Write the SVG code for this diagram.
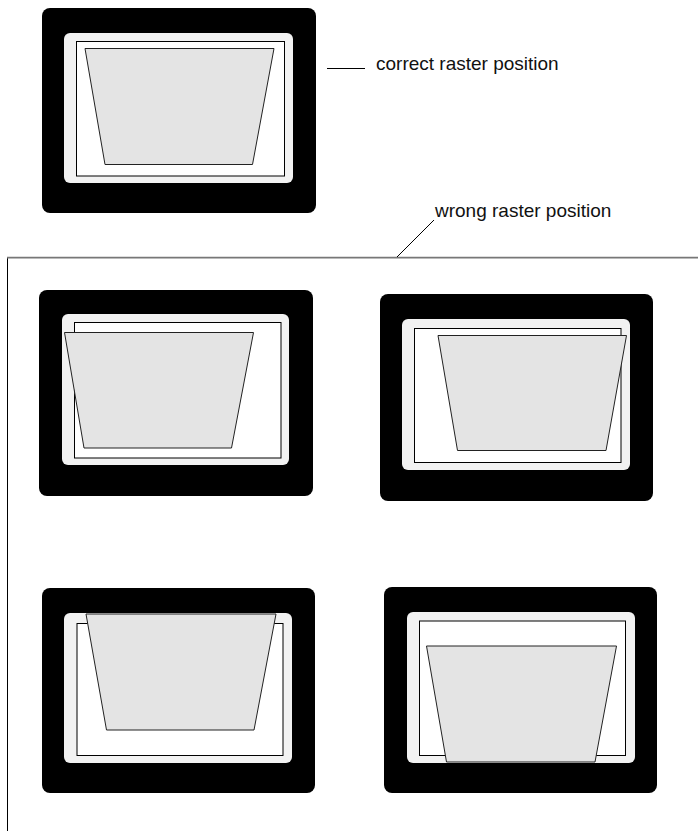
<svg xmlns="http://www.w3.org/2000/svg" width="698" height="831" viewBox="0 0 698 831">
<style>
.bezel{fill:#000;}
.screen{fill:#f2f2f2;}
.raster{fill:#fff;stroke:#000;stroke-width:1;}
.img{fill:#e4e4e4;stroke:#222;stroke-width:1;stroke-linejoin:miter;}
.lbl{font-family:"Liberation Sans",Arial,sans-serif;font-size:19px;fill:#111;}
.lead{stroke:#000;stroke-width:1;fill:none;}
</style>
<rect width="698" height="831" fill="#fff"/>
<g id="monitor-correct">
<rect class="bezel" x="42" y="8" width="274" height="205" rx="8"/>
<rect class="screen" x="64" y="33" width="229" height="150" rx="6"/>
<rect class="raster" x="76.5" y="41.5" width="208" height="134.5"/>
<polygon class="img" points="85,48.5 274,48.5 252.5,164.5 105,164.5"/>
</g>
<g id="frame-wrong">
<line x1="7.5" y1="257.5" x2="7.5" y2="831" stroke="#000" stroke-width="1"/>
<line x1="7" y1="257.6" x2="698" y2="257.6" stroke="#777" stroke-width="1.6"/>
</g>
<g id="monitor-wrong-1">
<rect class="bezel" x="39" y="290" width="274" height="206" rx="8"/>
<rect class="screen" x="62" y="314" width="227" height="151" rx="6"/>
<rect class="raster" x="74.5" y="322.5" width="206.5" height="135.5"/>
<polygon class="img" points="64.5,332.5 253.5,332.5 231.5,448 84,448"/>
</g>
<g id="monitor-wrong-2">
<rect class="bezel" x="380" y="294" width="273" height="207" rx="8"/>
<rect class="screen" x="402" y="319" width="228" height="151" rx="6"/>
<rect class="raster" x="414.5" y="328.5" width="206.5" height="134"/>
<polygon class="img" points="438,335.5 626.5,335.5 606,450.5 457.5,450.5"/>
</g>
<g id="monitor-wrong-3">
<rect class="bezel" x="42" y="588" width="273" height="205" rx="8"/>
<rect class="screen" x="64" y="613" width="228" height="150" rx="6"/>
<rect class="raster" x="77" y="623.5" width="206" height="132"/>
<polygon class="img" points="86,614 276,614 254,730 106.5,730"/>
</g>
<g id="monitor-wrong-4">
<rect class="bezel" x="384" y="587" width="273" height="206" rx="8"/>
<rect class="screen" x="407" y="612" width="228" height="151" rx="6"/>
<rect class="raster" x="419.5" y="621" width="206" height="134.5"/>
<polygon class="img" points="426.5,646 616.5,646 595,762 446.5,762"/>
</g>
<g id="connectors">
<line class="lead" x1="327" y1="68.5" x2="365" y2="68.5"/>
<line class="lead" x1="397" y1="257" x2="434" y2="220"/>
</g>
<g id="labels">
<text class="lbl" x="376" y="70">correct raster position</text>
<text class="lbl" x="435" y="217">wrong raster position</text>
</g>
</svg>
